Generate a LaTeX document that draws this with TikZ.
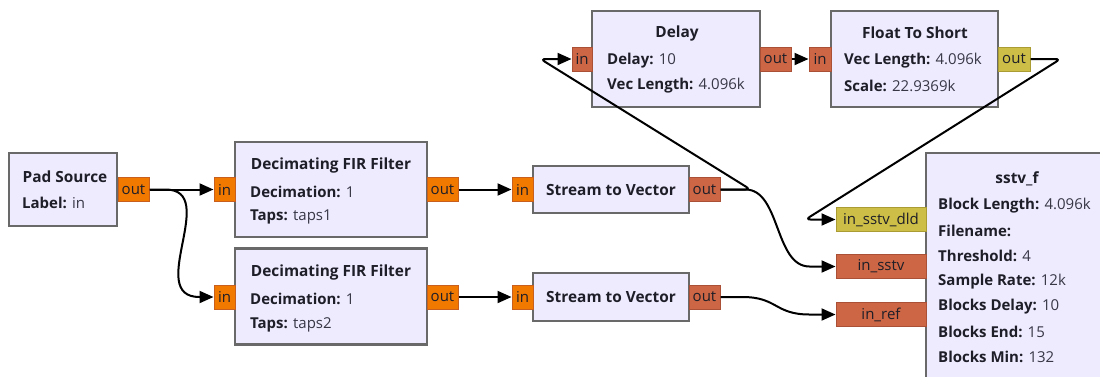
\documentclass[tikz,border=0pt]{standalone}
\usepackage{fontspec}
\setmainfont{Open Sans}
\usetikzlibrary{arrows.meta}
\definecolor{blkfill}{RGB}{238,235,255}
\definecolor{blkline}{RGB}{105,105,105}
\definecolor{pfloat}{RGB}{242,121,0}
\definecolor{pfloatln}{RGB}{200,95,30}
\definecolor{pvec}{RGB}{204,102,68}
\definecolor{pvecln}{RGB}{170,80,55}
\definecolor{pshort}{RGB}{204,190,70}
\definecolor{pshortln}{RGB}{170,155,50}
\definecolor{txt}{RGB}{30,30,40}
\definecolor{val}{RGB}{55,55,70}
\tikzset{
  blk/.style={draw=blkline, fill=blkfill, line width=2.2pt, inner sep=0pt},
  prt/.style={inner sep=0pt, minimum height=24pt, line width=1pt, font=\fontsize{15}{17}\selectfont, text=txt},
  pf/.style={prt, draw=pfloatln, fill=pfloat},
  pv/.style={prt, draw=pvecln, fill=pvec},
  ps/.style={prt, draw=pshortln, fill=pshort},
  ttl/.style={font=\bfseries\fontsize{15.4}{17}\selectfont, text=txt, inner sep=0pt},
  par/.style={font=\fontsize{15}{17}\selectfont, text=val, inner sep=0pt, anchor=west},
  wire/.style={line width=2pt, black},
  arr/.style={wire, -{Triangle[length=14pt,width=12pt]}},
  hook/.style={arr, rounded corners=5pt}
}
\newcommand{\pk}[1]{\textcolor{txt}{\textbf{#1}}}
\begin{document}
\begin{tikzpicture}[x=1pt,y=-1pt]
\useasboundingbox (0,0) rectangle (1100,376);
\clip (0,0) rectangle (1100,376);
% Pad Source
\node[blk, minimum width=108pt, minimum height=73pt] (pad) at (63,189.5) {};
\node[ttl] (padt) at (65,177) {Pad Source};
\node[par] (padp1) at (22,203) {\pk{Label:} in};
\node[pf, minimum width=31pt] (padout) at (133.5,189.5) {out};
% FIR 1
\node[blk, minimum width=192pt, minimum height=95pt] (fir1) at (331,189.5) {};
\node[ttl] (fir1t) at (331,165) {Decimating FIR Filter};
\node[par] (fir1p1) at (250,192) {\pk{Decimation:} 1};
\node[par] (fir1p2) at (250,217) {\pk{Taps:} taps1};
\node[pf, minimum width=21pt] (fir1in) at (224.5,189.5) {in};
\node[pf, minimum width=31pt] (fir1out) at (442.5,189.5) {out};
% FIR 2
\node[blk, minimum width=192pt, minimum height=96pt] (fir2) at (331,296.5) {};
\node[ttl] (fir2t) at (331,272) {Decimating FIR Filter};
\node[par] (fir2p1) at (250,299) {\pk{Decimation:} 1};
\node[par] (fir2p2) at (250,325) {\pk{Taps:} taps2};
\node[pf, minimum width=21pt] (fir2in) at (224.5,297) {in};
\node[pf, minimum width=31pt] (fir2out) at (442.5,297) {out};
% Stream to Vector 1
\node[blk, minimum width=156pt, minimum height=47pt] (stv1) at (611,189.5) {};
\node[ttl] (stv1t) at (611,190) {Stream to Vector};
\node[pf, minimum width=21pt] (stv1in) at (522.5,189.5) {in};
\node[pv, minimum width=31pt] (stv1out) at (704.5,189.5) {out};
% Stream to Vector 2
\node[blk, minimum width=156pt, minimum height=48pt] (stv2) at (611,297) {};
\node[ttl] (stv2t) at (611,297) {Stream to Vector};
\node[pf, minimum width=21pt] (stv2in) at (522.5,297) {in};
\node[pv, minimum width=31pt] (stv2out) at (704.5,297) {out};
% Delay
\node[blk, minimum width=168pt, minimum height=96pt] (delay) at (676,59) {};
\node[ttl] (delayt) at (677,33) {Delay};
\node[par] (delayp1) at (607,61) {\pk{Delay:} 10};
\node[par] (delayp2) at (607,86) {\pk{Vec Length:} 4.096k};
\node[pv, minimum width=20pt] (delayin) at (582,59) {in};
\node[pv, minimum width=31pt] (delayout) at (775.5,59) {out};
% Float To Short
\node[blk, minimum width=167pt, minimum height=96pt] (fts) at (914.5,59) {};
\node[ttl] (ftst) at (915,33) {Float To Short};
\node[par] (ftsp1) at (844,61) {\pk{Vec Length:} 4.096k};
\node[par] (ftsp2) at (844,86) {\pk{Scale:} 22.9369k};
\node[pv, minimum width=22pt] (ftsin) at (820,59) {in};
\node[ps, minimum width=32pt] (ftsout) at (1014,59) {out};
% sstv_f
\node[blk, minimum width=190pt, minimum height=250pt] (sstv) at (1021,278) {};
\node[ttl] (sstvt) at (1017,179) {sstv\_f};
\node[par] (sstvp1) at (938,206) {\pk{Block Length:} 4.096k};
\node[par] (sstvp2) at (938,231) {\pk{Filename:}};
\node[par] (sstvp3) at (938,256) {\pk{Threshold:} 4};
\node[par] (sstvp4) at (938,282) {\pk{Sample Rate:} 12k};
\node[par] (sstvp5) at (938,307) {\pk{Blocks Delay:} 10};
\node[par] (sstvp6) at (938,332) {\pk{Blocks End:} 15};
\node[par] (sstvp7) at (938,357) {\pk{Blocks Min:} 132};
\node[ps, minimum width=90pt] (dld) at (881,219.5) {in\_sstv\_dld};
\node[pv, minimum width=90pt] (insstv) at (881,266.5) {in\_sstv};
\node[pv, minimum width=90pt] (inref) at (881,314.5) {in\_ref};
% connections
\draw[arr] (padout.east) -- (fir1in.west);
\draw[arr] (padout.east) -- ([xshift=16pt]padout.east) .. controls +(55,0) and +(-55,0) .. ([xshift=-14pt]fir2in.west) -- (fir2in.west);
\draw[arr] (fir1out.east) -- (stv1in.west);
\draw[arr] (fir2out.east) -- (stv2in.west);
\draw[hook] (stv1out.east) -- ([xshift=30pt]stv1out.east) -- ([xshift=-31pt]delayin.west) -- (delayin.west);
\draw[arr] (delayout.east) -- (ftsin.west);
\draw[hook] (ftsout.east) -- ([xshift=30pt]ftsout.east) -- ([xshift=-30pt]dld.west) -- (dld.west);
\draw[arr] (stv1out.east) -- ([xshift=25pt]stv1out.east) .. controls +(35,0) and +(-35,0) .. ([xshift=-26pt]insstv.west) -- (insstv.west);
\draw[arr] (stv2out.east) -- ([xshift=22pt]stv2out.east) .. controls +(35,0) and +(-35,0) .. ([xshift=-26pt]inref.west) -- (inref.west);
\end{tikzpicture}
\end{document}
